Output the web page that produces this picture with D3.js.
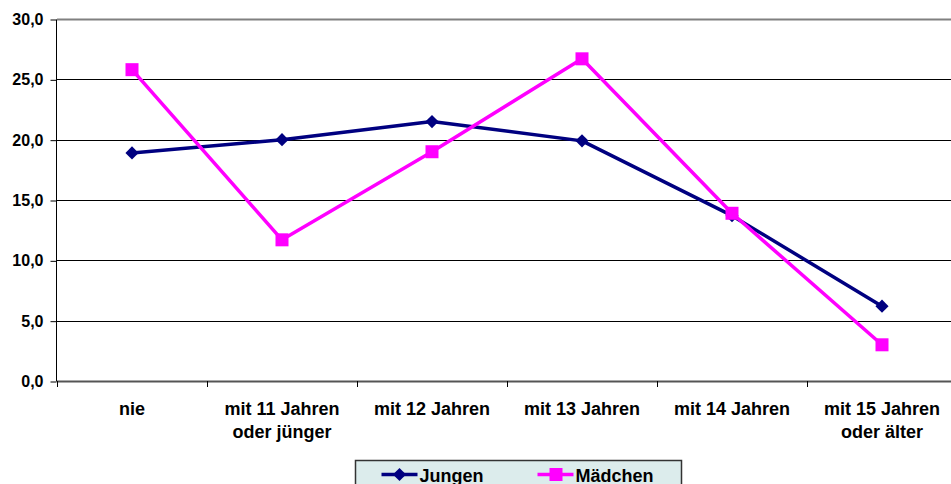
<!DOCTYPE html>
<html>
  <head>
    <meta charset="utf-8">
    <title>Jungen und Mädchen</title>
    <script src="https://d3js.org/d3.v7.min.js"></script>
    <style>
      body { margin: 0; background: #fff; }
      text { font-family: "Liberation Sans", Arial, sans-serif; font-weight: bold; fill: #000; }
    </style>
  </head>
  <body>
    <script>
      // Data
      var categories = [
        ["nie"],
        ["mit 11 Jahren", "oder jünger"],
        ["mit 12 Jahren"],
        ["mit 13 Jahren"],
        ["mit 14 Jahren"],
        ["mit 15 Jahren", "oder älter"]
      ];
      var jungen = [18.9, 20.0, 21.5, 19.9, 13.7, 6.2];
      var maedchen = [25.8, 11.7, 19.0, 26.7, 13.9, 3.0];
      var yTicks = [0, 5, 10, 15, 20, 25, 30];

      // plot area (note: "top" is reserved on window, so use other names)
      var W = 951, H = 484;
      var plotL = 57, plotR = 957, plotT = 19, plotB = 381;

      var svg = d3.select("body")
                  .append("svg")
                  .attr("width", W)
                  .attr("height", H);

      var idx = categories.map(function(d, i) { return i; });

      var x = d3.scaleBand()
                .domain(idx)
                .range([plotL, plotR])
                .padding(0);

      var y = d3.scaleLinear()
                .domain([0, 30])
                .range([plotB, plotT]);

      var fmt = function(v) { return d3.format(".1f")(v).replace(".", ","); };

      // Gridlines
      svg.append("g")
         .selectAll("line")
         .data(yTicks.filter(function(d) { return d > 0; }))
         .enter()
         .append("line")
         .attr("x1", plotL)
         .attr("x2", W)
         .attr("y1", function(d) { return Math.round(y(d)) + 0.5; })
         .attr("y2", function(d) { return Math.round(y(d)) + 0.5; })
         .attr("stroke", function(d) { return d === 30 ? "#808080" : "#000"; })
         .attr("stroke-width", function(d) { return d === 30 ? 2 : 1; });

      // Y axis
      var yAxis = svg.append("g")
         .attr("transform", "translate(" + (plotL - 0.5) + ",0.5)")
         .call(d3.axisLeft(y).tickValues(yTicks).tickSize(6).tickPadding(7).tickFormat(fmt));
      yAxis.select(".domain").attr("stroke", "#000").attr("d", "M0," + plotT + "V" + plotB);
      yAxis.selectAll(".tick line").attr("stroke", "#000");
      yAxis.selectAll("text")
           .style("font-size", "16px")
           .style("font-family", "'Liberation Sans', Arial, sans-serif")
           .style("font-weight", "bold")
           .attr("fill", "#000");

      // X axis baseline and ticks at category boundaries
      svg.append("line")
         .attr("x1", plotL).attr("x2", W)
         .attr("y1", plotB + 0.5).attr("y2", plotB + 0.5)
         .attr("stroke", "#555").attr("stroke-width", 2);

      var bounds = idx.map(function(i) { return x(i); }).concat([x(idx.length - 1) + x.bandwidth()]);
      svg.append("g")
         .selectAll("line")
         .data(bounds)
         .enter()
         .append("line")
         .attr("x1", function(d) { return Math.round(d) + 0.5; })
         .attr("x2", function(d) { return Math.round(d) + 0.5; })
         .attr("y1", plotB)
         .attr("y2", plotB + 6)
         .attr("stroke", "#000");

      // X labels
      var labels = svg.append("g")
         .selectAll("text")
         .data(categories)
         .enter()
         .append("text")
         .attr("text-anchor", "middle")
         .attr("x", function(d, i) { return x(i) + x.bandwidth() / 2; })
         .attr("y", 415)
         .style("font-size", "18px");
      labels.selectAll("tspan")
         .data(function(d) { return d; })
         .enter()
         .append("tspan")
         .attr("x", function() { return d3.select(this.parentNode).attr("x"); })
         .attr("dy", function(d, i) { return i === 0 ? 0 : 23; })
         .text(function(d) { return d; });

      // Lines
      var cx = function(d, i) { return x(i) + x.bandwidth() / 2; };
      var line = d3.line()
                   .x(cx)
                   .y(function(d) { return y(d); });

      svg.append("path")
         .datum(jungen)
         .attr("d", line)
         .attr("fill", "none")
         .attr("stroke", "#000080")
         .attr("stroke-width", 3.5)
         .attr("stroke-linejoin", "round");

      svg.append("path")
         .datum(maedchen)
         .attr("d", line)
         .attr("fill", "none")
         .attr("stroke", "#ff00ff")
         .attr("stroke-width", 3.5)
         .attr("stroke-linejoin", "round");

      // Markers
      var diamond = d3.symbol().type(d3.symbolDiamond2).size(110);
      svg.append("g")
         .selectAll("path")
         .data(jungen)
         .enter()
         .append("path")
         .attr("d", diamond)
         .attr("transform", function(d, i) { return "translate(" + cx(d, i) + "," + y(d) + ")"; })
         .attr("fill", "#000080");

      svg.append("g")
         .selectAll("rect")
         .data(maedchen)
         .enter()
         .append("rect")
         .attr("x", function(d, i) { return cx(d, i) - 6.5; })
         .attr("y", function(d) { return y(d) - 6.5; })
         .attr("width", 13)
         .attr("height", 13)
         .attr("fill", "#ff00ff");

      // Legend
      var legend = svg.append("g").attr("transform", "translate(355.5,460.5)");
      legend.append("rect")
            .attr("width", 326)
            .attr("height", 32)
            .attr("fill", "#dcecec")
            .attr("stroke", "#333")
            .attr("stroke-width", 1.5);

      var items = [
        { name: "Jungen", color: "#000080", x0: 26 },
        { name: "Mädchen", color: "#ff00ff", x0: 182 }
      ];
      items.forEach(function(it, k) {
        var g = legend.append("g").attr("transform", "translate(" + it.x0 + ",14)");
        g.append("line")
         .attr("x1", 0).attr("x2", 36)
         .attr("stroke", it.color).attr("stroke-width", 3.5);
        if (k === 0) {
          g.append("path")
           .attr("d", diamond)
           .attr("transform", "translate(18,0)")
           .attr("fill", it.color);
        } else {
          g.append("rect")
           .attr("x", 12).attr("y", -6.5)
           .attr("width", 13).attr("height", 13)
           .attr("fill", it.color);
        }
        g.append("text")
         .attr("x", 38)
         .attr("y", 7)
         .style("font-size", "18px")
         .text(it.name);
      });
    </script>
  </body>
</html>
